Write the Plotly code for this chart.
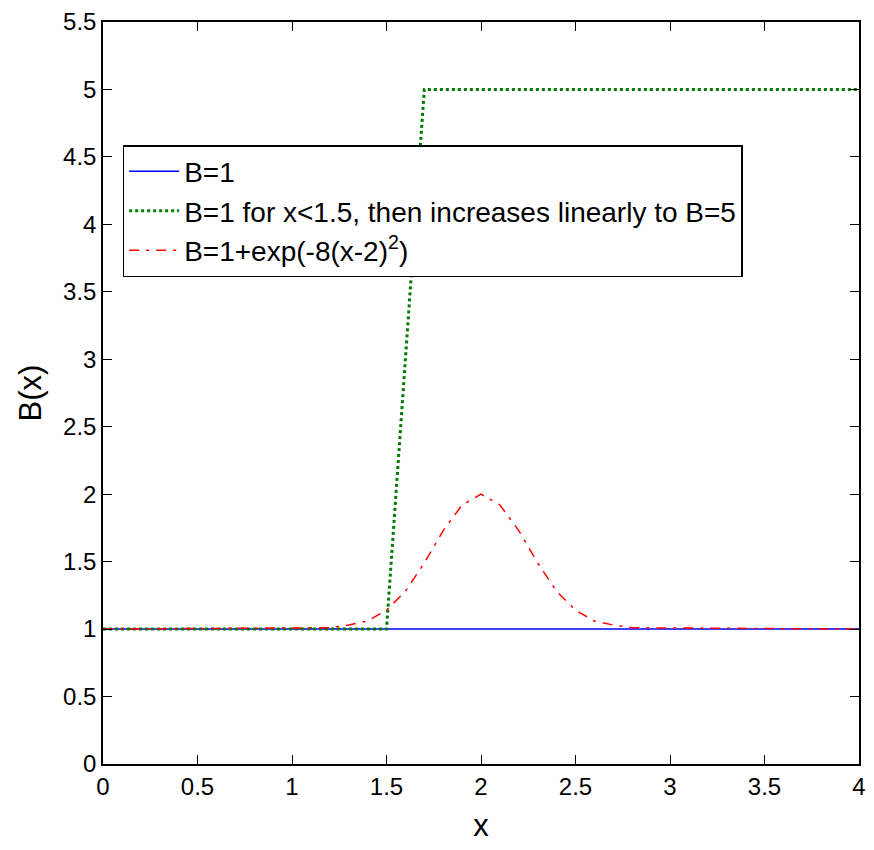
import plotly.graph_objects as go

# Series data
x_const = [0.0, 4.0]
b_const = [1.0, 1.0]

x_ramp = [0.0, 1.5, 1.7, 4.0]
b_ramp = [1.0, 1.0, 5.0, 5.0]

x_bump = [0.0, 1.2, 1.3, 1.4, 1.5, 1.6, 1.7, 1.8, 1.9, 2.0,
          2.1, 2.2, 2.3, 2.4, 2.5, 2.6, 2.7, 2.8, 4.0]
b_bump = [1.0, 1.01, 1.03, 1.06, 1.14, 1.28, 1.49, 1.73, 1.92, 2.0,
          1.92, 1.73, 1.49, 1.28, 1.14, 1.06, 1.03, 1.01, 1.0]

x_ticks = [0, 0.5, 1, 1.5, 2, 2.5, 3, 3.5, 4]
x_tick_text = ["0", "0.5", "1", "1.5", "2", "2.5", "3", "3.5", "4"]
y_ticks = [0, 0.5, 1, 1.5, 2, 2.5, 3, 3.5, 4, 4.5, 5, 5.5]
y_tick_text = ["0", "0.5", "1", "1.5", "2", "2.5", "3", "3.5", "4", "4.5", "5", "5.5"]

FONT = "Liberation Sans, Arial, sans-serif"

fig = go.Figure()
fig.add_trace(go.Scatter(x=x_const, y=b_const, mode="lines", name="B=1",
                         line=dict(color="#0000ff", width=1.5)))
fig.add_trace(go.Scatter(x=x_ramp, y=b_ramp, mode="lines",
                         name="B=1 for x<1.5, then increases linearly to B=5",
                         line=dict(color="#007a00", width=3, dash="3px,3px")))
fig.add_trace(go.Scatter(x=x_bump, y=b_bump, mode="lines",
                         name="B=1+exp(-8(x-2)<sup>2</sup>)",
                         line=dict(color="#ff0000", width=1.5, dash="10px,7px,3px,7px")))

axis_common = dict(showline=True, linecolor="black", linewidth=1.5, mirror="ticks",
                   ticks="inside", ticklen=9, tickwidth=1.2, tickcolor="black",
                   showgrid=False, zeroline=False,
                   tickfont=dict(family=FONT, size=24, color="black"))

fig.update_xaxes(range=[0, 4], tickvals=x_ticks, ticktext=x_tick_text,
                 title=dict(text="x", font=dict(family=FONT, size=31, color="black"),
                            standoff=16),
                 **axis_common)
fig.update_yaxes(range=[0, 5.5], tickvals=y_ticks, ticktext=y_tick_text,
                 title=dict(text="B(x)", font=dict(family=FONT, size=31, color="black"),
                            standoff=12),
                 **axis_common)

fig.update_layout(
    width=874, height=850,
    margin=dict(l=103, r=8, t=22, b=86),
    paper_bgcolor="white", plot_bgcolor="white",
    font=dict(family=FONT, color="black"),
    legend=dict(x=0.026, y=0.834, xanchor="left", yanchor="top",
                bgcolor="white", bordercolor="black", borderwidth=1.5,
                font=dict(family=FONT, size=28, color="black"),
                tracegroupgap=0, itemwidth=50),
)

fig.write_html("out.html")
